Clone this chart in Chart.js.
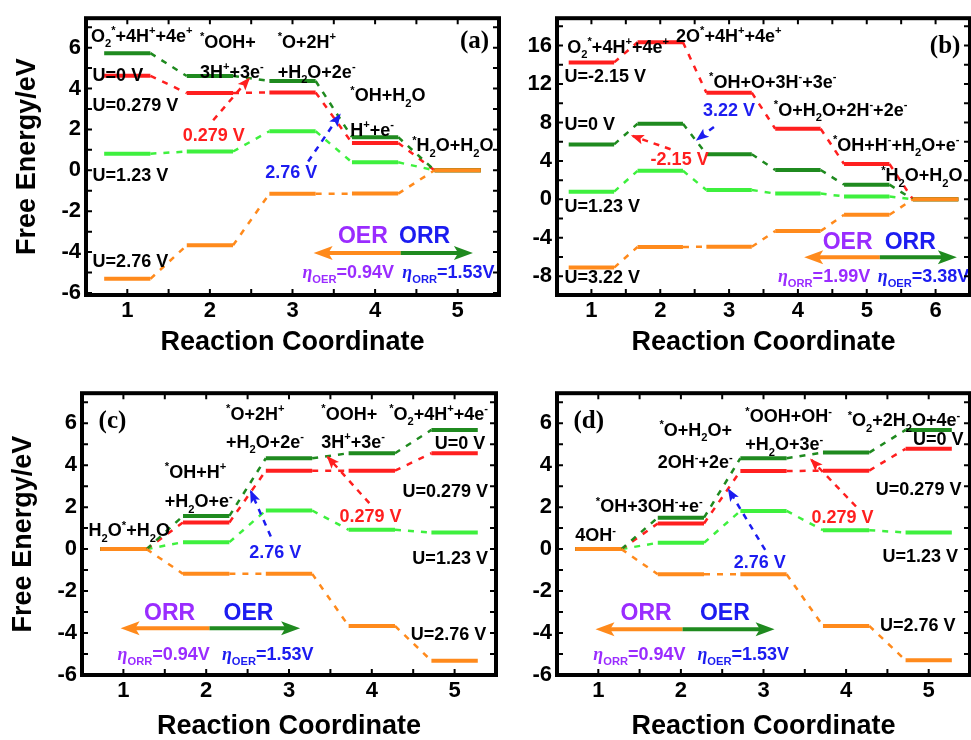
<!DOCTYPE html>
<html>
<head>
<meta charset="utf-8">
<script src="https://cdn.jsdelivr.net/npm/chart.js@4.4.1/dist/chart.umd.min.js"></script>
<style>
  body { margin: 0; background: #fff; width: 971px; height: 740px; position: relative; overflow: hidden; }
  .panel { position: absolute; }
</style>
</head>
<body>
<div class="panel" style="left:0;top:0;width:505px;height:365px"><canvas id="ca"></canvas></div>
<div class="panel" style="left:505px;top:0;width:466px;height:365px"><canvas id="cb"></canvas></div>
<div class="panel" style="left:0;top:375px;width:505px;height:365px"><canvas id="cc"></canvas></div>
<div class="panel" style="left:505px;top:375px;width:466px;height:365px"><canvas id="cd"></canvas></div>
<script>
// Reaction steps and energy ticks
const steps5 = [1, 2, 3, 4, 5];
const steps6 = [1, 2, 3, 4, 5, 6];
const ticksE = [-6, -4, -2, 0, 2, 4, 6];
const ticksEB = [-8, -4, 0, 4, 8, 12, 16];

// (a) free energy levels (eV)
const a_U0 = [5.73, 4.61, 4.37, 1.62, 0];
const a_U0279 = [4.62, 3.78, 3.81, 1.34, 0];
const a_U123 = [0.81, 0.92, 1.91, 0.39, 0];
const a_U276 = [-5.31, -3.67, -1.15, -1.14, 0];

// (b)
const b_Um215 = [14.25, 16.35, 11.1, 7.35, 3.68, 0];
const b_U0 = [5.72, 7.87, 4.7, 3.06, 1.53, 0];
const b_U123 = [0.8, 2.97, 0.98, 0.6, 0.31, 0];
const b_U322 = [-7.1, -4.95, -4.93, -3.3, -1.6, 0];

// (c)
const c_U0 = [0, 1.58, 4.33, 4.57, 5.68];
const c_U0279 = [0, 1.27, 3.74, 3.74, 4.57];
const c_U123 = [0, 0.33, 1.84, 0.92, 0.79];
const c_U276 = [0, -1.18, -1.18, -3.66, -5.32];

// (d)
const d_U0 = [0, 1.5, 4.33, 4.6, 5.68];
const d_U0279 = [0, 1.22, 3.72, 3.74, 4.78];
const d_U123 = [0, 0.3, 1.82, 0.9, 0.79];
const d_U276 = [0, -1.2, -1.2, -3.66, -5.3];

const SANS = "'Liberation Sans', Arial, sans-serif";
const SERIF = "'Liberation Serif', 'Times New Roman', serif";
const C = {
  dark: '#1f8a1f', red: '#ff1f1f', light: '#3ef03e', orange: '#ff8a1c',
  purple: '#9a2cff', blue: '#1c1cf0', black: '#000'
};

// each level is a flat bar around its step, joined to the next by a dashed line
function levels(steps, values, half) {
  const pts = [];
  steps.forEach((s, i) => {
    pts.push({ x: s - half, y: values[i] }, { x: s + half, y: values[i] });
  });
  return pts;
}

function series(steps, values, color, half, order) {
  return {
    data: levels(steps, values, half),
    borderColor: color,
    borderWidth: 4,
    pointRadius: 0,
    tension: 0,
    order: order,
    segment: {
      borderDash: c => (c.p0DataIndex % 2 ? [6, 7] : []),
      borderWidth: c => (c.p0DataIndex % 2 ? 2.5 : 4)
    }
  };
}

// text with _x / ^x (or _{..} / ^{..}) for sub- and superscripts
function drawRich(ctx, str, x, y, size, color) {
  const runs = [];
  let i = 0;
  while (i < str.length) {
    let ch = str[i], mode = 0;
    if ((ch === '_' || ch === '^') && i + 1 < str.length) {
      mode = ch === '_' ? 1 : 2;
      i++;
      if (str[i] === '{') {
        const j = str.indexOf('}', i);
        ch = str.slice(i + 1, j);
        i = j + 1;
      } else {
        ch = str[i];
        i++;
      }
    } else {
      i++;
    }
    const last = runs[runs.length - 1];
    if (last && last.mode === mode && mode === 0 && ch !== 'η' && !last.eta) last.t += ch;
    else runs.push({ t: ch, mode, eta: ch === 'η' });
  }
  const base = y + size * 0.36;
  let cx = x;
  ctx.fillStyle = color;
  ctx.textAlign = 'left';
  ctx.textBaseline = 'alphabetic';
  runs.forEach(r => {
    const s = r.mode ? size * 0.62 : size;
    ctx.font = (r.eta ? 'italic ' : '') + 'bold ' + s + 'px ' + (r.eta ? SERIF : SANS);
    const dy = r.mode === 1 ? size * 0.3 : r.mode === 2 ? -size * 0.42 : 0;
    ctx.fillText(r.t, cx, base + dy);
    cx += ctx.measureText(r.t).width;
  });
}

function head(ctx, x0, y0, x1, y1, len, wid, color) {
  const ang = Math.atan2(y1 - y0, x1 - x0);
  ctx.save();
  ctx.translate(x1, y1);
  ctx.rotate(ang);
  ctx.beginPath();
  ctx.moveTo(2, 0);
  ctx.lineTo(-len, -wid / 2);
  ctx.lineTo(-len * 0.75, 0);
  ctx.lineTo(-len, wid / 2);
  ctx.closePath();
  ctx.fillStyle = color;
  ctx.fill();
  ctx.restore();
}

// labels, arrows, frame and inner tick marks
function decor(d) {
  return {
    id: 'decor',
    afterDatasetsDraw(chart) {
      const { ctx, scales: { x, y } } = chart;
      const px = v => x.getPixelForValue(v);
      const py = v => y.getPixelForValue(v);
      ctx.save();
      // dashed potential arrows
      d.dashed.forEach(([x0, y0, x1, y1, col]) => {
        const X0 = px(x0), Y0 = py(y0), X1 = px(x1), Y1 = py(y1);
        ctx.strokeStyle = C[col];
        ctx.lineWidth = 2.5;
        ctx.setLineDash([6, 6]);
        ctx.beginPath();
        ctx.moveTo(X0, Y0);
        ctx.lineTo(X1, Y1);
        ctx.stroke();
        ctx.setLineDash([]);
        head(ctx, X0, Y0, X1, Y1, 11, 10, C[col]);
      });
      // reaction direction arrows
      const r = d.dir;
      const Y = py(r.y), M = px(r.xm), L = px(r.xl), R = px(r.xr);
      ctx.lineWidth = 4;
      ctx.strokeStyle = C.orange;
      ctx.beginPath(); ctx.moveTo(M, Y); ctx.lineTo(L + 10, Y); ctx.stroke();
      head(ctx, M, Y, L, Y, 17, 14, C.orange);
      ctx.strokeStyle = C.dark;
      ctx.beginPath(); ctx.moveTo(M, Y); ctx.lineTo(R - 10, Y); ctx.stroke();
      head(ctx, M, Y, R, Y, 17, 14, C.dark);
      // text
      d.notes.forEach(([t, tx, ty, col, size]) => {
        drawRich(ctx, t, px(tx), py(ty), size || 18, C[col || 'black']);
      });
      ctx.font = 'bold 25px ' + SERIF;
      ctx.fillStyle = '#000';
      ctx.textBaseline = 'middle';
      ctx.textAlign = d.tag.align;
      ctx.fillText(d.tag.t, px(d.tag.x), py(d.tag.y));
      ctx.restore();
    },
    afterDraw(chart) {
      const { ctx, chartArea: a, scales: { x, y } } = chart;
      ctx.save();
      ctx.strokeStyle = '#000';
      ctx.lineWidth = 2;
      for (let v = x.min + 0.5; v < x.max; v += 0.5) {
        const X = x.getPixelForValue(v);
        ctx.beginPath();
        ctx.moveTo(X, a.bottom); ctx.lineTo(X, a.bottom - 6);
        ctx.moveTo(X, a.top); ctx.lineTo(X, a.top + 6);
        ctx.stroke();
      }
      for (let v = Math.ceil(y.min / d.yMinor) * d.yMinor; v < y.max; v += d.yMinor) {
        const Yp = y.getPixelForValue(v);
        ctx.beginPath();
        ctx.moveTo(a.left, Yp); ctx.lineTo(a.left + 6, Yp);
        ctx.moveTo(a.right, Yp); ctx.lineTo(a.right - 6, Yp);
        ctx.stroke();
      }
      ctx.lineWidth = 4;
      ctx.strokeRect(a.left, a.top, a.right - a.left, a.bottom - a.top);
      ctx.restore();
    }
  };
}

function panel(id, p) {
  new Chart(document.getElementById(id), {
    type: 'line',
    data: {
      datasets: p.series.map(([vals, col, order]) => series(p.steps, vals, C[col], p.half, order))
    },
    options: {
      responsive: true,
      maintainAspectRatio: false,
      animation: false,
      layout: { padding: { top: p.padTop, right: p.padRight, bottom: 0, left: 0 } },
      plugins: { legend: { display: false }, tooltip: { enabled: false } },
      scales: {
        x: {
          type: 'linear',
          min: 0.5,
          max: p.steps.length + 0.5,
          afterBuildTicks: s => { s.ticks = p.steps.map(v => ({ value: v })); },
          afterFit: s => { s.height = p.xH; },
          grid: { display: false, drawTicks: false },
          border: { display: false },
          ticks: { autoSkip: false, maxRotation: 0, padding: 3, color: '#000', font: { family: SANS, size: 22, weight: 'bold' } },
          title: {
            display: true, text: 'Reaction Coordinate', color: '#000',
            font: { family: SANS, size: 27, weight: 'bold', lineHeight: 1 },
            padding: { top: 0, bottom: p.xTitlePad }
          }
        },
        y: {
          min: p.yMin,
          max: p.yMax,
          afterBuildTicks: s => { s.ticks = p.yTicks.map(v => ({ value: v })); },
          afterFit: s => { s.width = p.yW; },
          grid: { display: false, drawTicks: false },
          border: { display: false },
          ticks: { autoSkip: false, padding: 5, color: '#000', font: { family: SANS, size: 22, weight: 'bold' } },
          title: {
            display: p.yTitle, text: 'Free Energy/eV', color: '#000',
            font: { family: SANS, size: 27, weight: 'bold', lineHeight: 1 },
            padding: { top: p.yTitlePad, bottom: 0 }
          }
        }
      }
    },
    plugins: [decor(p.decor)]
  });
}

panel('ca', {
  steps: steps5, half: 0.28, yMin: -6.1, yMax: 7.44, yTicks: ticksE,
  padTop: 13, padRight: 6, yW: 86, xH: 70, xTitlePad: 8.5, yTitle: true, yTitlePad: 14.5,
  series: [[a_U123, 'light', 3], [a_U0279, 'red', 2], [a_U0, 'dark', 1], [a_U276, 'orange', 0]],
  decor: {
    yMinor: 1,
    tag: { t: '(a)', x: 5.38, y: 6.3, align: 'right' },
    dir: { y: -4.04, xm: 4.31, xl: 3.28, xr: 5.16 },
    dashed: [[2.04, 2.45, 2.47, 4.47, 'red'], [3.19, 0.43, 3.57, 2.7, 'blue']],
    notes: [
      ['O_2^*+4H^++4e^+', 0.56, 6.6],
      ['^*OOH+', 1.88, 6.3],
      ['3H^++3e^-', 1.88, 4.85],
      ['^*O+2H^+', 2.82, 6.3],
      ['+H_2O+2e^-', 2.82, 4.85],
      ['^*OH+H_2O', 3.7, 3.7],
      ['H^++e^-', 3.7, 2.0],
      ['^*H_2O+H_2O', 4.45, 1.25],
      ['U=0 V', 0.58, 4.67],
      ['U=0.279 V', 0.58, 3.22],
      ['U=1.23 V', 0.58, -0.2],
      ['U=2.76 V', 0.58, -4.4],
      ['0.279 V', 1.67, 1.74, 'red'],
      ['2.76 V', 2.67, -0.08, 'blue'],
      ['OER', 3.55, -3.17, 'purple', 23],
      ['ORR', 4.29, -3.17, 'blue', 23],
      ['η_{OER}=0.94V', 3.12, -4.95, 'purple'],
      ['η_{ORR}=1.53V', 4.33, -4.95, 'blue']
    ]
  }
});

panel('cb', {
  steps: steps6, half: 0.33, yMin: -9.95, yMax: 18.85, yTicks: ticksEB,
  padTop: 13, padRight: 1, yW: 52, xH: 70, xTitlePad: 8.5, yTitle: false, yTitlePad: 0,
  series: [[b_U123, 'light', 3], [b_Um215, 'red', 2], [b_U0, 'dark', 1], [b_U322, 'orange', 0]],
  decor: {
    yMinor: 2,
    tag: { t: '(b)', x: 6.36, y: 15.9, align: 'right' },
    dir: { y: -6.03, xm: 5.19, xl: 4.12, xr: 6.28 },
    dashed: [[2.78, 7.53, 2.54, 6.23, 'blue'], [2.15, 5.21, 1.6, 6.6, 'red']],
    notes: [
      ['O_2^*+4H^++4e^+', 0.65, 15.9],
      ['2O^*+4H^++4e^+', 2.23, 17.05],
      ['U=-2.15 V', 0.61, 12.9],
      ['^*OH+O+3H^-+3e^-', 2.71, 12.3],
      ['3.22 V', 2.62, 9.37, 'blue'],
      ['^*O+H_2O+2H^-+2e^-', 3.65, 9.37],
      ['U=0 V', 0.61, 7.94],
      ['-2.15 V', 1.86, 4.26, 'red'],
      ['^*OH+H^-+H_2O+e^-', 4.51, 5.72],
      ['^*H_2O+H_2O', 5.21, 2.55],
      ['U=1.23 V', 0.61, -0.64],
      ['U=3.22 V', 0.61, -8.07],
      ['OER', 4.36, -4.32, 'purple', 23],
      ['ORR', 5.26, -4.32, 'blue', 23],
      ['η_{ORR}=1.99V', 3.71, -7.9, 'purple'],
      ['η_{OER}=3.38V', 5.16, -7.9, 'blue']
    ]
  }
});

panel('cc', {
  steps: steps5, half: 0.28, yMin: -6, yMax: 7.43, yTicks: ticksE,
  padTop: 18, padRight: 9, yW: 82, xH: 65, xTitlePad: 0, yTitle: true, yTitlePad: 10.5,
  series: [[c_U123, 'light', 3], [c_U0279, 'red', 2], [c_U0, 'dark', 1], [c_U276, 'orange', 0]],
  decor: {
    yMinor: 1,
    tag: { t: '(c)', x: 0.7, y: 6.08, align: 'left' },
    dir: { y: -3.77, xm: 2.04, xl: 0.99, xr: 3.11 },
    dashed: [[3.97, 2.19, 3.47, 4.38, 'red'], [2.78, 0.6, 2.54, 2.74, 'blue']],
    notes: [
      ['^*O+2H^+', 2.24, 6.48],
      ['+H_2O+2e^-', 2.24, 5.13],
      ['^*OOH+', 3.39, 6.48],
      ['3H^++3e^-', 3.39, 5.13],
      ['^*O_2+4H^++4e^-', 4.21, 6.48],
      ['U=0 V', 4.76, 5.1],
      ['U=0.279 V', 4.37, 2.79],
      ['0.279 V', 3.61, 1.6, 'red'],
      ['U=1.23 V', 4.49, -0.39],
      ['U=2.76 V', 4.47, -4.04],
      ['^*OH+H^+', 1.5, 3.7],
      ['+H_2O+e^-', 1.5, 2.31],
      ['H_2O^*+H_2O', 0.58, 0.92],
      ['2.76 V', 2.52, -0.12, 'blue'],
      ['ORR', 1.25, -2.98, 'purple', 23],
      ['OER', 2.21, -2.98, 'blue', 23],
      ['η_{ORR}=0.94V', 0.93, -4.97, 'purple'],
      ['η_{OER}=1.53V', 2.19, -4.97, 'blue']
    ]
  }
});

panel('cd', {
  steps: steps5, half: 0.28, yMin: -6, yMax: 7.43, yTicks: ticksE,
  padTop: 18, padRight: 1, yW: 52, xH: 65, xTitlePad: 0, yTitle: false, yTitlePad: 0,
  series: [[d_U123, 'light', 3], [d_U0279, 'red', 2], [d_U0, 'dark', 1], [d_U276, 'orange', 0]],
  decor: {
    yMinor: 1,
    tag: { t: '(d)', x: 0.7, y: 6.08, align: 'left' },
    dir: { y: -3.82, xm: 2.02, xl: 0.99, xr: 3.11 },
    dashed: [[4.12, 2.03, 3.58, 4.25, 'red'], [3.02, -0.04, 2.58, 2.82, 'blue']],
    notes: [
      ['^*O+H_2O+', 1.74, 5.72],
      ['2OH^-+2e^-', 1.72, 4.17],
      ['^*OOH+OH^-', 2.78, 6.35],
      ['+H_2O+3e^-', 2.78, 5.02],
      ['^*O_2+2H_2O+4e^-', 4.02, 6.16],
      ['U=0 V', 4.81, 5.29],
      ['U=0.279 V', 4.36, 2.9],
      ['0.279 V', 3.58, 1.55, 'red'],
      ['U=1.23 V', 4.44, -0.31],
      ['U=2.76 V', 4.41, -3.61],
      ['^*OH+3OH^-+e^-', 0.97, 2.06],
      ['4OH^-', 0.72, 0.68],
      ['2.76 V', 2.64, -0.6, 'blue'],
      ['ORR', 1.27, -2.98, 'purple', 23],
      ['OER', 2.23, -2.98, 'blue', 23],
      ['η_{ORR}=0.94V', 0.94, -4.97, 'purple'],
      ['η_{OER}=1.53V', 2.2, -4.97, 'blue']
    ]
  }
});
</script>
</body>
</html>
